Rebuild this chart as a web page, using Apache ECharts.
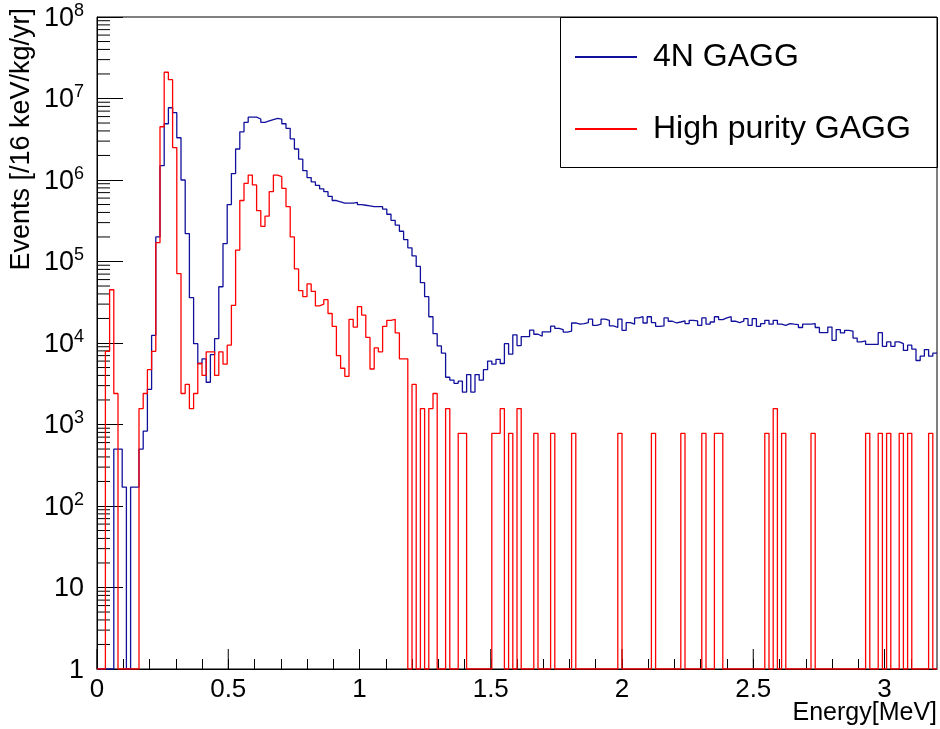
<!DOCTYPE html>
<html>
<head>
<meta charset="utf-8">
<script src="https://cdn.jsdelivr.net/npm/echarts@6/dist/echarts.min.js"></script>
<style>
html, body { margin: 0; padding: 0; background: #fff; }
#main { width: 940px; height: 729px; }
</style>
</head>
<body>
<div id="main"></div>
<script>
// 16 keV bins from 0 to 3.2 MeV (0 = empty bin)
var binWidthKeV = 16;
var energyMax = 3.2;
var seriesNames = ['4N GAGG', 'High purity GAGG'];

var gagg4N = [
  0, 0, 0, 0, 500, 500, 170, 0, 170, 170,
  500, 830, 2700, 12400, 200000, 1500000, 4900000, 7700000, 6700000, 3300000,
  1000000, 220000, 36000, 9800, 5600, 6400, 3300, 7200, 11300, 49000,
  166000, 500000, 1200000, 2400000, 3900000, 5100000, 5900000, 5900000, 5600000, 5100000,
  5300000, 5500000, 5700000, 5600000, 4900000, 4300000, 3200000, 2400000, 1800000, 1300000,
  1070000, 950000, 860000, 780000, 720000, 630000, 560000, 540000, 520000, 520000,
  520000, 530000, 500000, 490000, 480000, 470000, 470000, 470000, 440000, 380000,
  320000, 280000, 235000, 186000, 147000, 117000, 87000, 55000, 37000, 21000,
  13000, 9200, 7500, 3800, 3500, 3200, 3400, 2500, 4100, 2500,
  4100, 3500, 4700, 6000, 5500, 6300, 5600, 9800, 7300, 12600,
  9300, 12000, 12000, 14400, 12800, 12100, 13700, 13700, 16100, 15100,
  14600, 13600, 14000, 17600, 17000, 17300, 17800, 19600, 16500, 17000,
  19600, 19000, 16200, 15500, 19600, 14300, 17800, 17000, 20300, 21000,
  17600, 21000, 17800, 16000, 16200, 20300, 18500, 17600, 18100, 18700,
  17300, 19000, 18700, 16500, 20300, 17000, 18100, 21000, 19400, 20300,
  21000, 18500, 17800, 18500, 19900, 16500, 19900, 16000, 17300, 19000,
  17000, 19000, 17000, 16500, 17300, 17000, 16800, 15500, 17000, 17000,
  17300, 15500, 13400, 13400, 15700, 10800, 14600, 13300, 14300, 14000,
  11500, 10300, 10600, 9600, 9600, 9600, 13400, 9100, 10300, 9100,
  10300, 9800, 8100, 9400, 8400, 6100, 6900, 8300, 6900, 7500
];

var gaggHighPurity = [
  0, 0, 7900, 45000, 2400, 0, 0, 0, 0, 0,
  1570, 2400, 4700, 7900, 170000, 4500000, 21000000, 17000000, 2500000, 71000,
  2400, 3100, 1570, 2400, 5600, 4000, 7800, 7800, 4000, 7800,
  5500, 9400, 29000, 138000, 560000, 910000, 1150000, 870000, 420000, 270000,
  360000, 720000, 1150000, 1100000, 790000, 470000, 200000, 81000, 44000, 37000,
  53000, 43000, 28500, 30000, 34000, 23000, 16000, 7000, 4900, 3900,
  19500, 15700, 28000, 22000, 11700, 4800, 8700, 7800, 16000, 19000,
  19500, 13300, 6400, 6400, 0, 3100, 0, 1570, 0, 1570,
  2400, 0, 0, 1570, 0, 0, 780, 780, 0, 0,
  0, 0, 0, 0, 780, 780, 1570, 0, 780, 0,
  1570, 0, 0, 0, 780, 0, 0, 0, 780, 0,
  0, 0, 0, 780, 0, 0, 0, 0, 0, 0,
  0, 0, 0, 0, 780, 0, 0, 0, 0, 0,
  0, 0, 780, 0, 0, 0, 0, 0, 0, 780,
  0, 0, 0, 0, 780, 0, 0, 780, 780, 0,
  0, 0, 0, 0, 0, 0, 0, 0, 0, 780,
  0, 1570, 0, 780, 0, 0, 0, 0, 0, 0,
  780, 0, 0, 0, 0, 0, 0, 0, 0, 0,
  0, 0, 0, 780, 0, 0, 780, 0, 780, 0,
  0, 780, 0, 780, 0, 0, 0, 0, 780, 0
];

var xTickLabels = ['0', '0.5', '1', '1.5', '2', '2.5', '3'];
var yTickLabels = ['1', '10', '10{sup|2}', '10{sup|3}', '10{sup|4}', '10{sup|5}', '10{sup|6}', '10{sup|7}', '10{sup|8}'];

var font = 'Liberation Sans, Arial, sans-serif';

// step histogram points: left edge of each bin, plus closing point at the upper edge
function toSteps(vals) {
  var pts = [];
  for (var i = 0; i < vals.length; i++) {
    pts.push([i * binWidthKeV / 1000, Math.max(vals[i], 1)]);
  }
  pts.push([vals.length * binWidthKeV / 1000, Math.max(vals[vals.length - 1], 1)]);
  return pts;
}

// extra ROOT style ticks: y minor (2..9 x 10^n) and long x major ticks
var tickMarks = [];
for (var n = 0; n < 8; n++) {
  for (var m = 2; m <= 9; m++) tickMarks.push([0, m * Math.pow(10, n), 13, 0]);
}
for (var k = 0; k < xTickLabels.length; k++) tickMarks.push([k * 0.5, 1, 20, 1]);

var chart = echarts.init(document.getElementById('main'));
chart.setOption({
  animation: false,
  backgroundColor: '#fff',
  grid: {
    left: 97, right: 3, top: 17, bottom: 60,
    show: true, borderColor: '#000', borderWidth: 1,
    outerBoundsMode: 'none', containLabel: false
  },
  legend: {
    data: seriesNames,
    orient: 'vertical',
    left: 560, top: 17,
    padding: [22, 0, 0, 15],
    itemWidth: 62, itemHeight: 2, itemGap: 36,
    icon: 'rect',
    textStyle: { fontFamily: font, fontSize: 32, color: '#000', lineHeight: 36, padding: [0, 0, 0, 11] }
  },
  xAxis: {
    type: 'value', min: 0, max: energyMax, interval: 0.1,
    axisLine: { lineStyle: { color: '#000', width: 1 } },
    axisTick: { inside: true, length: 10, lineStyle: { color: '#000' } },
    splitLine: { show: false },
    axisLabel: {
      margin: 8, color: '#000', fontFamily: font, fontSize: 26,
      showMaxLabel: false,
      formatter: function (v) {
        var h = Math.round(v * 2);
        if (Math.abs(v * 2 - h) > 1e-6) return '';
        return xTickLabels[h] || '';
      }
    }
  },
  yAxis: {
    type: 'log', logBase: 10, min: 1, max: 1e8, splitNumber: 8,
    axisLine: { lineStyle: { color: '#000', width: 1 } },
    axisTick: { inside: true, length: 26, lineStyle: { color: '#000' } },
    splitLine: { show: false },
    axisLabel: {
      margin: 13, color: '#000', fontFamily: font,
      formatter: function (v) {
        var e = Math.round(Math.log10(v));
        // '10{sup|8}' -> '{b|10}{sup|8}'
        return '{b|' + yTickLabels[e].replace(/\{sup\|(\d)\}/, '}{sup|$1') + '}';
      },
      rich: {
        b: { fontFamily: font, fontSize: 27, color: '#000', lineHeight: 30, verticalAlign: 'bottom' },
        sup: { fontFamily: font, fontSize: 18, color: '#000', lineHeight: 18, verticalAlign: 'top' }
      }
    }
  },
  graphic: [
    {
      type: 'rect', silent: true,
      shape: { x: 560.5, y: 17.5, width: 377, height: 150 },
      style: { fill: 'none', stroke: '#000', lineWidth: 1 }
    },
    {
      type: 'text', silent: true, x: 22, y: 8, rotation: Math.PI / 2,
      style: { text: 'Events [/16 keV/kg/yr]', font: '27px ' + font, fill: '#000', align: 'right', verticalAlign: 'middle' }
    },
    {
      type: 'text', silent: true, x: 937, y: 713,
      style: { text: 'Energy[MeV]', font: '25px ' + font, fill: '#000', align: 'right', verticalAlign: 'middle' }
    }
  ],
  series: [
    {
      name: seriesNames[0], type: 'line', step: 'end', showSymbol: false,
      data: toSteps(gagg4N), color: '#10109c',
      lineStyle: { color: '#10109c', width: 1.3 }
    },
    {
      name: seriesNames[1], type: 'line', step: 'end', showSymbol: false,
      data: toSteps(gaggHighPurity), color: '#ff0000',
      lineStyle: { color: '#ff0000', width: 1.3 }
    },
    {
      type: 'custom', silent: true, clip: false, z: 1,
      data: tickMarks,
      renderItem: function (params, api) {
        var p = api.coord([api.value(0), api.value(1)]);
        var len = api.value(2);
        var horiz = api.value(3) === 0;
        return {
          type: 'line',
          shape: { x1: p[0], y1: p[1], x2: horiz ? p[0] + len : p[0], y2: horiz ? p[1] : p[1] - len },
          style: { stroke: '#000', lineWidth: 1 }
        };
      }
    }
  ]
});
</script>
</body>
</html>
